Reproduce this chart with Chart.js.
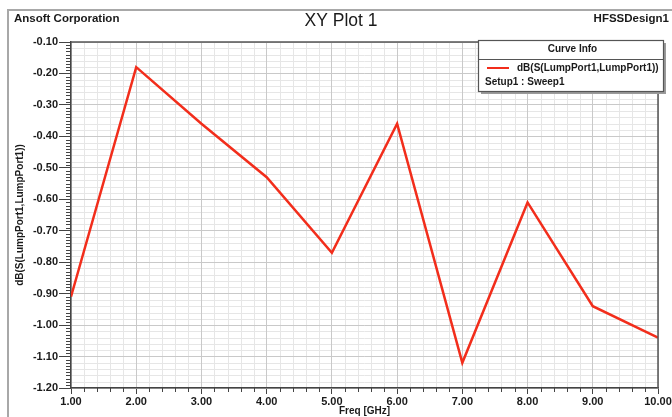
<!DOCTYPE html>
<html>
<head>
<meta charset="utf-8">
<script src="https://cdn.jsdelivr.net/npm/chart.js@4.4.0/dist/chart.umd.min.js"></script>
<style>
  html, body { margin: 0; padding: 0; background: #ffffff; }
  #wrap { width: 672px; height: 417px; position: relative; }
</style>
</head>
<body>
<div id="wrap"><canvas id="plot" width="672" height="417"></canvas></div>
<script>
// Return loss sweep, 1-10 GHz
const freqGHz = [1, 2, 3, 4, 5, 6, 7, 8, 9, 10];
const dbS11 = [-0.91, -0.18, -0.36, -0.53, -0.77, -0.36, -1.12, -0.61, -0.94, -1.04];

// Axis tick labels
const xTickValues = [1, 2, 3, 4, 5, 6, 7, 8, 9, 10];
const yTickValues = [-0.10, -0.20, -0.30, -0.40, -0.50, -0.60, -0.70, -0.80, -0.90, -1.00, -1.10, -1.20];

// Texts
const plotTitle = 'XY Plot 1';
const companyText = 'Ansoft Corporation';
const designText = 'HFSSDesign1';
const xAxisTitle = 'Freq [GHz]';
const yAxisTitle = 'dB(S(LumpPort1,LumpPort1))';
const seriesName = 'dB(S(LumpPort1,LumpPort1))';
const sweepName = 'Setup1 : Sweep1';
const legendHeader = 'Curve Info';

const LINE_RED = '#f22d1b';
const FONT = '"Liberation Sans", Arial, sans-serif';

// Minor grid lines and small tick marks, drawn through the chart's scales
const minorGrid = {
  id: 'minorGrid',
  beforeDraw(chart) {
    const { ctx, chartArea: a, scales: { x, y } } = chart;
    ctx.save();
    ctx.fillStyle = '#ffffff';
    ctx.fillRect(0, 0, chart.width, chart.height);
    ctx.strokeStyle = '#e6e6e6';
    ctx.lineWidth = 1;
    ctx.beginPath();
    for (let i = 0; i <= 45; i++) {
      if (i % 5 === 0) continue;
      const px = Math.round(x.getPixelForValue(1 + i * 0.2)) + 0.5;
      ctx.moveTo(px, a.top); ctx.lineTo(px, a.bottom);
    }
    for (let j = 0; j <= 55; j++) {
      if (j % 5 === 0) continue;
      const py = Math.round(y.getPixelForValue(-1.2 + j * 0.02)) + 0.5;
      ctx.moveTo(a.left, py); ctx.lineTo(a.right, py);
    }
    ctx.stroke();
    ctx.restore();
  },
  afterDraw(chart) {
    const { ctx, chartArea: a, scales: { x, y } } = chart;
    ctx.save();
    // small tick marks
    ctx.strokeStyle = '#444';
    ctx.lineWidth = 1;
    ctx.beginPath();
    for (let j = 0; j <= 110; j++) {
      if (j % 10 === 0) continue;
      const py = Math.round(y.getPixelForValue(-1.2 + j * 0.01)) + 0.5;
      ctx.moveTo(a.left - 5, py); ctx.lineTo(a.left, py);
    }
    for (let i = 0; i <= 45; i++) {
      if (i % 5 === 0) continue;
      const px = Math.round(x.getPixelForValue(1 + i * 0.2)) + 0.5;
      ctx.moveTo(px, a.bottom); ctx.lineTo(px, a.bottom + 4);
    }
    ctx.stroke();

    // top and right frame of the plot area
    ctx.strokeStyle = '#555';
    ctx.lineWidth = 1.5;
    ctx.beginPath();
    ctx.moveTo(a.left, a.top); ctx.lineTo(a.right, a.top); ctx.lineTo(a.right, a.bottom);
    ctx.stroke();

    // window frame
    ctx.strokeStyle = '#a8a8a8';
    ctx.lineWidth = 2;
    ctx.beginPath();
    ctx.moveTo(8, chart.height); ctx.lineTo(8, 10); ctx.lineTo(chart.width, 10);
    ctx.stroke();

    // header texts
    ctx.fillStyle = '#1a1a1a';
    ctx.textBaseline = 'middle';
    ctx.font = 'bold 11.5px ' + FONT;
    ctx.textAlign = 'left';
    ctx.fillText(companyText, 14, 19);
    ctx.textAlign = 'right';
    ctx.fillText(designText, 669, 19);
    ctx.font = '17.5px ' + FONT;
    ctx.textAlign = 'center';
    ctx.fillText(plotTitle, 341, 21);

    // curve info box
    const bx = 478, by = 40, bw = 185, bh = 51;
    ctx.fillStyle = '#9a9a9a';
    ctx.fillRect(bx + 3, by + 3, bw, bh);
    ctx.fillStyle = '#ffffff';
    ctx.fillRect(bx, by, bw, bh);
    ctx.strokeStyle = '#555';
    ctx.lineWidth = 1.2;
    ctx.strokeRect(bx + 0.5, by + 0.5, bw, bh);
    ctx.beginPath();
    ctx.moveTo(bx, by + 19.5); ctx.lineTo(bx + bw, by + 19.5);
    ctx.stroke();
    ctx.fillStyle = '#1a1a1a';
    ctx.font = 'bold 10px ' + FONT;
    ctx.textAlign = 'center';
    ctx.fillText(legendHeader, bx + bw / 2 + 2, by + 9);
    const ds = chart.data.datasets[0];
    ctx.strokeStyle = ds.borderColor;
    ctx.lineWidth = 2;
    ctx.beginPath();
    ctx.moveTo(487, 68); ctx.lineTo(509, 68);
    ctx.stroke();
    ctx.textAlign = 'left';
    ctx.fillText(ds.label, 517, 68);
    ctx.fillText(sweepName, 485, 82);
    ctx.restore();
  }
};

new Chart(document.getElementById('plot'), {
  type: 'line',
  data: {
    datasets: [{
      label: seriesName,
      data: freqGHz.map((f, i) => ({ x: f, y: dbS11[i] })),
      borderColor: LINE_RED,
      borderWidth: 2.5,
      pointRadius: 0,
      tension: 0,
      fill: false
    }]
  },
  options: {
    responsive: false,
    animation: false,
    devicePixelRatio: 1,
    events: [],
    layout: { padding: { top: 42, right: 14, left: 0, bottom: 0 } },
    plugins: { legend: { display: false }, tooltip: { enabled: false }, title: { display: false } },
    scales: {
      x: {
        type: 'linear',
        min: 1, max: 10,
        afterBuildTicks: s => { s.ticks = xTickValues.map(v => ({ value: v })); },
        afterFit: s => { s.height = 29; s.paddingLeft = 0; s.paddingRight = 0; },
        ticks: {
          callback: v => Number(v).toFixed(2),
          font: { family: FONT, size: 11, weight: 'bold' },
          color: '#1a1a1a',
          maxRotation: 0, autoSkip: false, padding: 1
        },
        grid: { color: '#c9c9c9', tickColor: '#444', tickLength: 6, lineWidth: 1 },
        border: { color: '#444', width: 1.5 },
        title: {
          display: true, text: xAxisTitle,
          font: { family: FONT, size: 10, weight: 'bold' }, color: '#1a1a1a',
          padding: { top: 0, bottom: 0 }
        }
      },
      y: {
        type: 'linear',
        min: -1.2, max: -0.1,
        afterBuildTicks: s => { s.ticks = yTickValues.map(v => ({ value: v })); },
        afterFit: s => { s.width = 71; s.paddingTop = 0; s.paddingBottom = 0; },
        ticks: {
          callback: v => Number(v).toFixed(2),
          font: { family: FONT, size: 11, weight: 'bold' },
          color: '#1a1a1a',
          autoSkip: false, padding: 1
        },
        grid: { color: '#c9c9c9', tickColor: '#444', tickLength: 12, lineWidth: 1 },
        border: { color: '#444', width: 1.5 },
        title: {
          display: true, text: yAxisTitle,
          font: { family: FONT, size: 10, weight: 'bold' }, color: '#1a1a1a',
          padding: { top: 14, bottom: 0 }
        }
      }
    }
  },
  plugins: [minorGrid]
});
</script>
</body>
</html>
